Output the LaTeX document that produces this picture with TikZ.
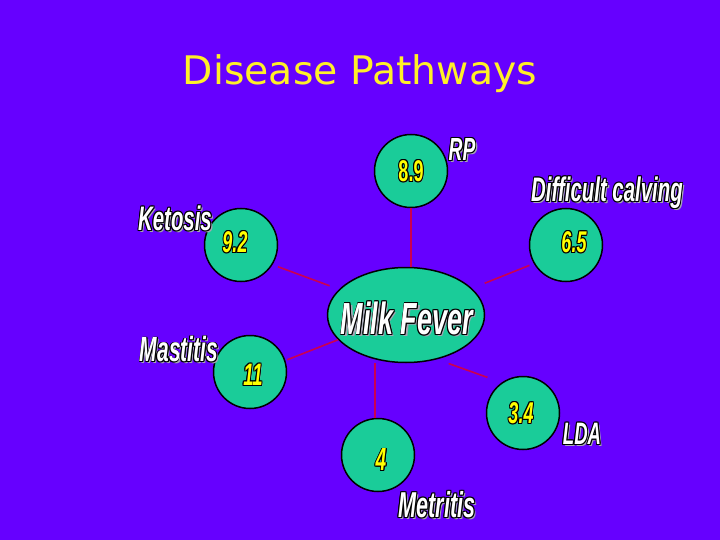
\documentclass[tikz,border=0pt]{standalone}
\usepackage{fontspec}
\usetikzlibrary{shapes.geometric}
\setmainfont{DejaVu Sans}
\newfontfamily\wafont[FakeStretch=0.6]{Liberation Sans}
\definecolor{bgviolet}{RGB}{102,0,255}
\definecolor{discgreen}{RGB}{26,204,153}
\definecolor{linkred}{RGB}{204,0,80}
\definecolor{wshadow}{RGB}{165,165,180}
\definecolor{numyellow}{RGB}{255,255,0}
\definecolor{titleyellow}{RGB}{255,240,40}
\newlength\wo
\setlength\wo{0.9pt}
% outlined "word art" text: #1 fill colour, #2 shadow offset, #3 text
\newcommand\waOut[3]{\leavevmode
  \rlap{\kern#2\raisebox{-#2}{\color{wshadow}#3}}%
  \rlap{\kern\wo{\color{black}#3}}%
  \rlap{\kern-\wo{\color{black}#3}}%
  \rlap{\raisebox{\wo}{\color{black}#3}}%
  \rlap{\raisebox{-\wo}{\color{black}#3}}%
  \rlap{\kern\wo\raisebox{\wo}{\color{black}#3}}%
  \rlap{\kern\wo\raisebox{-\wo}{\color{black}#3}}%
  \rlap{\kern-\wo\raisebox{\wo}{\color{black}#3}}%
  \rlap{\kern-\wo\raisebox{-\wo}{\color{black}#3}}%
  {\color{#1}#3}}
\begin{document}
\begin{tikzpicture}[x=1pt,y=-1pt,
  disc/.style={circle, draw=black, line width=1.5pt, fill=discgreen, minimum size=73pt, inner sep=0pt},
  hub/.style={ellipse, draw=black, line width=1.5pt, fill=discgreen, minimum width=157pt, minimum height=95pt, inner sep=0pt},
  wa/.style={inner sep=0pt, font=\wafont\bfseries\itshape\fontsize{#1}{#1}\selectfont},
  link/.style={draw=linkred, line width=1.6pt}]
\fill[bgviolet] (0,0) rectangle (720,540);
\useasboundingbox (0,0) rectangle (720,540);

% title
\node[anchor=base, inner sep=0pt, text=titleyellow] (title) at (360,85)
  {\resizebox{354pt}{!}{\fontsize{37}{37}\selectfont Disease Pathways}};

% hub and discs
\node[hub] (mf) at (406,315) {};
\node[disc] (c89) at (411,171) {};
\node[disc] (c92) at (241,245) {};
\node[disc] (c65) at (566,245) {};
\node[disc] (c11) at (250,372) {};
\node[disc] (c34) at (523,413) {};
\node[disc] (c4) at (378,455) {};

% connectors
\draw[link] (c89.south) -- (c89.south |- mf.north);
\draw[link, shorten <=5.7pt, shorten >=10pt] (c92.-32.6) -- (mf.159);
\draw[link, shorten <=4.6pt, shorten >=13.6pt] (c65.210) -- (mf.22.6);
\draw[link, shorten <=2pt] (c11.18) -- (mf.200.7);
\draw[link, shorten <=12.3pt, shorten >=15pt] (mf.-55.1) -- (c34.125.3);
\draw[link] (c4.95) -- (c4.95 |- mf.south);

% numbers
\node[wa=30] (n89) at (411,171) {\upshape\waOut{numyellow}{1pt}{8.9}};
\node[wa=30] (n92) at (235,242) {\waOut{numyellow}{1pt}{9.2}};
\node[wa=30] (n65) at (574,242) {\waOut{numyellow}{1pt}{6.5}};
\node[wa=31] (n11) at (253,375) {\waOut{numyellow}{1pt}{11}};
\node[wa=30] (n34) at (521,413) {\waOut{numyellow}{1pt}{3.4}};
\node[wa=32] (n4) at (381,460) {\waOut{numyellow}{1pt}{4}};

% labels
\node[wa=45] (mft) at (407,319) {\waOut{white}{2.2pt}{Milk Fever}};
\node[wa=32] (rp) at (462,150) {\waOut{white}{2pt}{RP}};
\node[wa=34] (ket) at (175,219) {\waOut{white}{2pt}{Ketosis}};
\node[wa=35] (mas) at (179,350) {\waOut{white}{2pt}{Mastitis}};
\node[wa=31] (lda) at (582,434) {\waOut{white}{2pt}{LDA}};
\node[wa=36] (met) at (437,505) {\waOut{white}{2pt}{Metritis}};
\node[wa=34] (dc) at (607,193) {\waOut{white}{2pt}{Difficult calving}};
\end{tikzpicture}
\end{document}
